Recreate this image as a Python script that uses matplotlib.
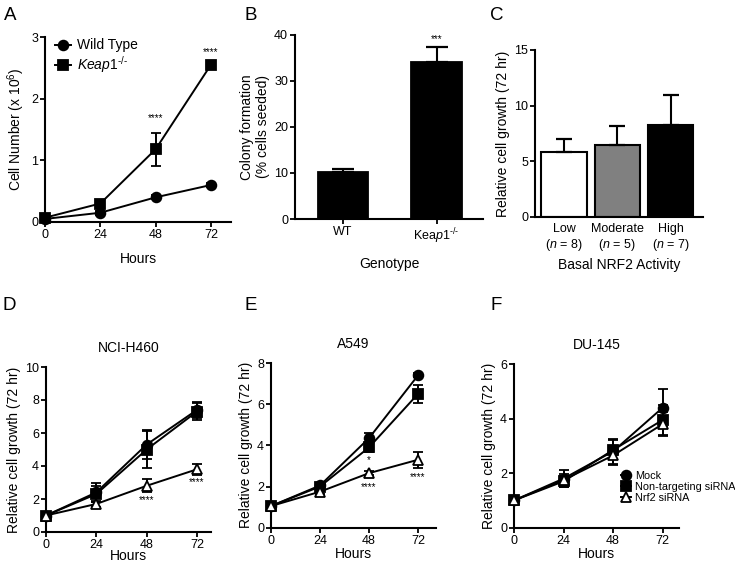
#!/usr/bin/env python3
"""Six-panel growth figure (A-F) redrawn with matplotlib."""

import matplotlib

matplotlib.use("Agg")
import matplotlib.pyplot as plt
from matplotlib.lines import Line2D

plt.rcParams["font.family"] = ["Liberation Sans", "DejaVu Sans"]
plt.rcParams["mathtext.fontset"] = "custom"
plt.rcParams["mathtext.rm"] = "Liberation Sans"
plt.rcParams["mathtext.it"] = "Liberation Sans:italic"

HOURS = [0, 24, 48, 72]

# Panel A
A_WT = [0.05, 0.15, 0.40, 0.60]
A_WT_ERR = [0.02, 0.03, 0.03, 0.03]
A_KEAP = [0.07, 0.30, 1.18, 2.55]
A_KEAP_ERR = [0.02, 0.05, 0.27, 0.05]

# Panel B
B_LABELS = ["WT", "Kea$\\it{p1}^{\\text{-/-}}$"]
B_VALUES = [10.2, 34.0]
B_ERR = [0.6, 3.3]

# Panel C
C_LABELS = ["Low\n($\\it{n}$ = 8)", "Moderate\n($\\it{n}$ = 5)", "High\n($\\it{n}$ = 7)"]
C_VALUES = [5.8, 6.5, 8.3]
C_ERR = [1.25, 1.65, 2.65]
C_COLORS = ["white", "#808080", "black"]

# Panels D-F: mock, non-targeting siRNA, Nrf2 siRNA
D_MOCK = [1.0, 2.4, 5.3, 7.4]
D_MOCK_ERR = [0.1, 0.6, 0.9, 0.5]
D_NT = [1.0, 2.3, 5.0, 7.3]
D_NT_ERR = [0.1, 0.5, 1.1, 0.5]
D_NRF2 = [1.0, 1.7, 2.8, 3.8]
D_NRF2_ERR = [0.1, 0.2, 0.4, 0.35]

E_MOCK = [1.05, 2.05, 4.35, 7.4]
E_MOCK_ERR = [0.05, 0.1, 0.25, 0.1]
E_NT = [1.05, 2.0, 3.9, 6.5]
E_NT_ERR = [0.05, 0.1, 0.2, 0.45]
E_NRF2 = [1.05, 1.75, 2.65, 3.3]
E_NRF2_ERR = [0.05, 0.1, 0.1, 0.4]

F_MOCK = [1.0, 1.8, 2.8, 4.4]
F_MOCK_ERR = [0.05, 0.3, 0.45, 0.7]
F_NT = [1.0, 1.7, 2.85, 3.95]
F_NT_ERR = [0.05, 0.2, 0.35, 0.55]
F_NRF2 = [1.0, 1.75, 2.65, 3.8]
F_NRF2_ERR = [0.05, 0.2, 0.35, 0.45]

W, H = 735, 562
TICK_FS = 9
LABEL_FS = 10


def px_axes(fig, left, right, top, bottom):
    ax = fig.add_axes([left / W, 1 - bottom / H, (right - left) / W, (bottom - top) / H])
    for side in ("top", "right"):
        ax.spines[side].set_visible(False)
    for side in ("left", "bottom"):
        ax.spines[side].set_linewidth(1.5)
    ax.tick_params(width=1.3, length=3.5, labelsize=TICK_FS, pad=1.5)
    return ax


def series(ax, y, err, marker, face):
    ax.errorbar(HOURS, y, yerr=err, color="black", lw=1.4, marker=marker,
                ms=7 if marker != "^" else 7.5, mfc=face, mec="black", mew=1.3,
                capsize=3.5, capthick=1.4, elinewidth=1.4, clip_on=False, zorder=3)


def handle(marker, face):
    return Line2D([], [], color="black", lw=1.4, marker=marker, ms=7,
                  mfc=face, mec="black", mew=1.3)


def stars(ax, x, y, s):
    ax.text(x, y, s, ha="center", va="center", fontsize=7)


fig = plt.figure(figsize=(W / 100, H / 100), dpi=100)

# ---- A
ax = px_axes(fig, 45, 231, 37, 222)
series(ax, A_WT, A_WT_ERR, "o", "black")
series(ax, A_KEAP, A_KEAP_ERR, "s", "black")
ax.set_xlim(0, 80.7)
ax.set_ylim(0, 3)
ax.set_xticks(HOURS)
ax.set_yticks([0, 1, 2, 3])
ax.set_xlabel("Hours", fontsize=LABEL_FS, labelpad=8)
ax.set_ylabel(r"Cell Number (x 10$^6$)", fontsize=LABEL_FS, labelpad=3)
stars(ax, 48, 1.68, "****")
stars(ax, 72, 2.75, "****")
ax.legend([handle("o", "black"), handle("s", "black")],
          ["Wild Type", "$\\it{Keap1}^{\\it{\\text{-/-}}}$"],
          loc="upper left", bbox_to_anchor=(0.0, 1.045), frameon=False,
          fontsize=LABEL_FS, handlelength=1.2, handletextpad=0.4, labelspacing=0.15,
          borderaxespad=0.3)

# ---- B
ax = px_axes(fig, 295, 483, 34.7, 219)
ax.bar([0, 1], B_VALUES, width=0.535, color="black", edgecolor="black", lw=1.3)
ax.errorbar([0, 1], B_VALUES, yerr=[[0, 0], B_ERR], fmt="none", ecolor="black",
            elinewidth=1.5, capsize=8, capthick=1.6)
ax.set_xlim(-0.513, 1.497)
ax.set_ylim(0, 40)
ax.set_xticks([0, 1], B_LABELS)
ax.set_yticks([0, 10, 20, 30, 40])
ax.set_xlabel("Genotype", fontsize=LABEL_FS, labelpad=8)
ax.set_ylabel("Colony formation\n(% cells seeded)", fontsize=LABEL_FS, labelpad=3)
stars(ax, 1, 39.0, "***")

# ---- C
ax = px_axes(fig, 535, 703, 50, 217)
ax.bar([0, 1, 2], C_VALUES, width=0.85, color=C_COLORS, edgecolor="black", lw=1.5)
ax.errorbar([0, 1, 2], C_VALUES, yerr=[[0, 0, 0], C_ERR], fmt="none", ecolor="black",
            elinewidth=1.5, capsize=6, capthick=1.6)
ax.set_xlim(-0.545, 2.61)
ax.set_ylim(0, 15)
ax.set_xticks([0, 1, 2], C_LABELS)
ax.set_yticks([0, 5, 10, 15])
ax.tick_params(axis="x", length=0, pad=4)
ax.set_xlabel("Basal NRF2 Activity", fontsize=LABEL_FS, labelpad=4)
ax.set_ylabel("Relative cell growth (72 hr)", fontsize=LABEL_FS, labelpad=3)

# ---- D-F
panels = [
    ((46, 211, 367, 532), 78.7, 10, [0, 2, 4, 6, 8, 10], "NCI-H460",
     (D_MOCK, D_MOCK_ERR, D_NT, D_NT_ERR, D_NRF2, D_NRF2_ERR),
     [(48, 1.95, "****"), (72, 3.0, "****")]),
    ((271, 436, 363, 527.7), 80.8, 8, [0, 2, 4, 6, 8], "A549",
     (E_MOCK, E_MOCK_ERR, E_NT, E_NT_ERR, E_NRF2, E_NRF2_ERR),
     [(48, 3.3, "*"), (48, 1.95, "****"), (72, 2.45, "****")]),
    ((514, 679, 364, 527.7), 79.9, 6, [0, 2, 4, 6], "DU-145",
     (F_MOCK, F_MOCK_ERR, F_NT, F_NT_ERR, F_NRF2, F_NRF2_ERR),
     []),
]
for i, (box, xmax, ymax, yticks, title, data, marks) in enumerate(panels):
    ax = px_axes(fig, *box)
    mock, mock_err, nt, nt_err, nrf2, nrf2_err = data
    series(ax, mock, mock_err, "o", "black")
    series(ax, nt, nt_err, "s", "black")
    series(ax, nrf2, nrf2_err, "^", "white")
    ax.set_xlim(0, xmax)
    ax.set_ylim(0, ymax)
    ax.set_xticks(HOURS)
    ax.set_yticks(yticks)
    ax.set_xlabel("Hours", fontsize=LABEL_FS, labelpad=-1.5 if i == 0 else 0)
    ax.set_ylabel("Relative cell growth (72 hr)", fontsize=LABEL_FS, labelpad=3)
    ax.set_title(title, fontsize=LABEL_FS, pad=11)
    for x, y, s in marks:
        stars(ax, x, y, s)
    if i == 2:
        ax.legend([handle("o", "black"), handle("s", "black"), handle("^", "white")],
                  ["Mock", "Non-targeting siRNA", "Nrf2 siRNA"],
                  loc="lower right", bbox_to_anchor=(1.38, 0.11), frameon=False,
                  fontsize=7.8, handlelength=1.0, handletextpad=0.3, labelspacing=0.1,
                  borderaxespad=0.2)

for letter, x, y in [("A", 4, 20), ("B", 245, 20), ("C", 490, 20),
                     ("D", 2, 310), ("E", 245, 310), ("F", 490, 310)]:
    fig.text(x / W, 1 - y / H, letter, fontsize=13.5, ha="left", va="baseline")

fig.savefig("out.png", dpi=100)
